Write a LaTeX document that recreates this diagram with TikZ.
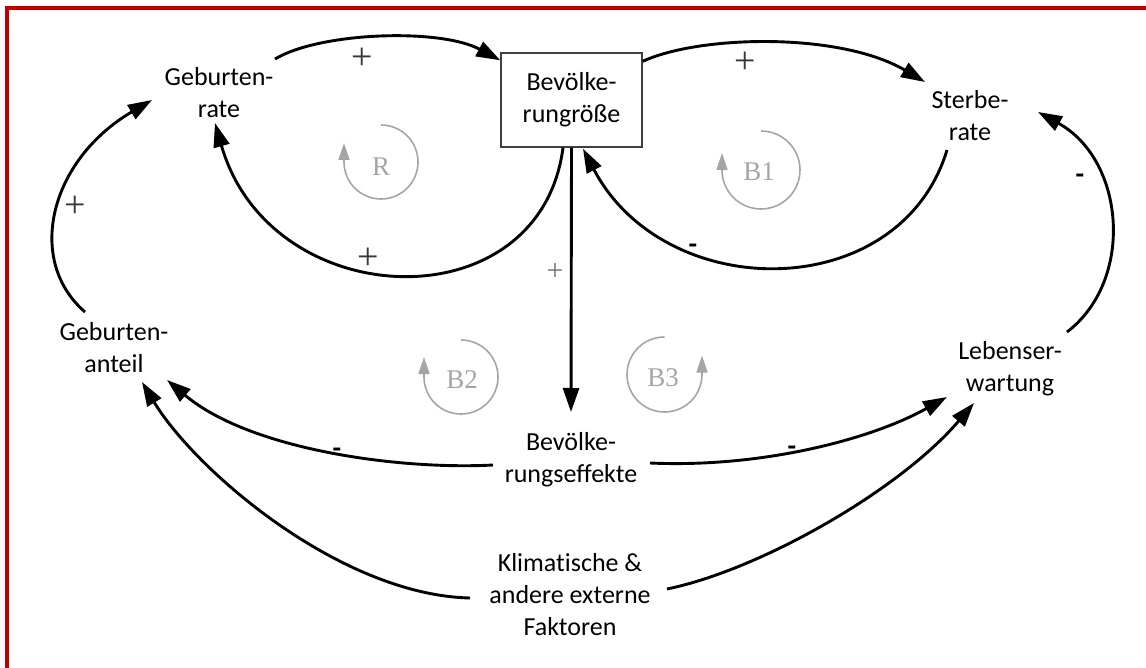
\documentclass[tikz,border=0pt]{standalone}
\usepackage{fontspec}
\setmainfont{Carlito}[RawFeature=-liga]
\newfontfamily\loopfont{Liberation Serif}
\usetikzlibrary{arrows.meta}
\definecolor{framered}{RGB}{192,0,0}
\definecolor{loopgray}{RGB}{165,165,165}
\definecolor{signgray}{RGB}{55,55,55}
\begin{document}
\begin{tikzpicture}[x=1pt,y=-1pt,
  lbl/.style={font=\fontsize{26}{32}\selectfont, align=center, inner sep=0pt, text=black},
  stock/.style={lbl, draw=black!75, line width=1.4pt, minimum width=141pt, minimum height=94pt},
  link/.style={line width=2.9pt, -{Triangle[length=24pt,width=16pt]}},
  loopmark/.style={draw=loopgray, line width=1.6pt, -{Triangle[length=17pt,width=11pt]}},
  looptext/.style={font=\loopfont\fontsize{27}{30}\selectfont, text=loopgray, inner sep=0pt},
  plus/.style={font=\loopfont\fontsize{38}{40}\selectfont, text=signgray, inner sep=0pt},
  minus/.style={font=\bfseries\fontsize{28}{30}\selectfont, text=black, inner sep=0pt},
]
\useasboundingbox (0,0) rectangle (1146,668);
\draw[framered, line width=4pt] (1146,8) -- (7,8) -- (7,668);

% nodes
\node[lbl] (gr) at (219,95) {\strut Geburten-\\rate\strut};
\node[stock] (box) at (571.5,100) {\strut Bevölke-\\rungröße\strut};
\node[lbl] (sr) at (970,118) {\strut Sterbe-\\rate\strut};
\node[lbl] (ga) at (114,350) {\strut Geburten-\\anteil\strut};
\node[lbl] (le) at (1010,369) {\strut Lebenser-\\wartung\strut};
\node[lbl] (be) at (571,460) {\strut Bevölke-\\rungseffekte\strut};
\node[lbl] (kf) at (570,597) {\strut Klimatische \&\\andere externe\\Faktoren\strut};

% connectors
\draw[link] ([shift={(56,-36)}]gr.center) .. controls (320,32) and (440,28) .. ([shift={(0,8)}]box.north west);
\draw[link] ([shift={(0,9)}]box.north east) .. controls (700,35) and (840,32) .. ([shift={(-45,-36)}]sr.center);
\draw[link] ([shift={(-8.5,0)}]box.south) .. controls (540,325) and (270,315) .. ([shift={(-4,28)}]gr.center);
\draw[link] ([shift={(-23,32)}]sr.center) .. controls (900,305) and (665,305) .. ([shift={(11.5,1)}]box.south);
\draw[link] (box.south) -- ([shift={(0,-48)}]be.center);
\draw[link] ([shift={(-29,-38)}]ga.center) .. controls (25,260) and (50,160) .. ([shift={(-67,5)}]gr.center);
\draw[link] ([shift={(57,-37)}]le.center) .. controls (1135,280) and (1125,160) .. ([shift={(68,-6)}]sr.center);
\draw[link] ([shift={(-78,5)}]be.center) .. controls (400,470) and (250,450) .. ([shift={(53,30)}]ga.center);
\draw[link] ([shift={(79,3)}]be.center) .. controls (760,468) and (870,440) .. ([shift={(-63,28)}]le.center);
\draw[link] ([shift={(-100,1)}]kf.center) .. controls (340,595) and (195,470) .. ([shift={(28,32)}]ga.center);
\draw[link] ([shift={(97,-8)}]kf.center) .. controls (760,570) and (900,490) .. ([shift={(-36,34)}]le.center);

% polarity signs
\node[plus] (p1) at (362,59) {+};
\node[plus] (p2) at (745,63) {+};
\node[plus] (p3) at (368,259) {+};
\node[plus] (p6) at (75,207) {+};
\node[plus, font=\loopfont\fontsize{30}{32}\selectfont, text=black!55] (p5) at (555,272) {+};
\node[minus] (m4) at (693,249) {-};
\node[minus] (m7) at (1080,179) {-};
\node[minus] (m8) at (337,453) {-};
\node[minus] (m9) at (792,451) {-};

% loop markers
\draw[loopmark] (381,125) arc[start angle=90, end angle=-180, radius=37pt] -- ++(0,-19);
\node[looptext] (lR) at (381,167) {R};
\draw[loopmark] (761,131) arc[start angle=90, end angle=-180, radius=39pt] -- ++(0,-17);
\node[looptext] (lB1) at (759,172) {B1};
\draw[loopmark] (461,340) arc[start angle=90, end angle=-180, radius=37pt] -- ++(0,-20);
\node[looptext] (lB2) at (462,380) {B2};
\draw[loopmark] (664.5,337) arc[start angle=90, end angle=360, radius=37.5pt] -- ++(0,-19);
\node[looptext] (lB3) at (663,378) {B3};
\end{tikzpicture}
\end{document}
